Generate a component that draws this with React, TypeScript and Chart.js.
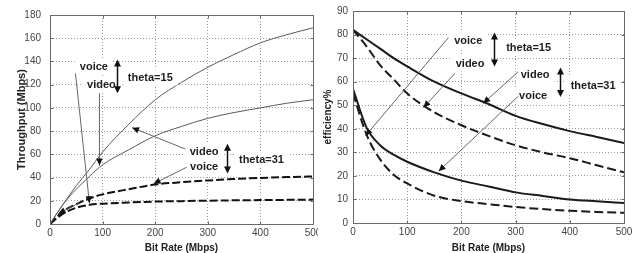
import React, { useEffect, useRef } from "react";
import { Chart, registerables } from "chart.js";

Chart.register(...registerables);

// ---------- data ----------
const bitRate = [0, 25, 50, 75, 100, 150, 200, 250, 300, 350, 400, 450, 500];

// Throughput (Mbps)
const thrSolidUpper = [0, 17, 33, 47, 62, 86, 107, 122, 135, 146, 156, 163, 169];
const thrSolidLower = [0, 17, 30, 41, 51, 64, 76, 84, 91, 96, 100, 104, 107];
const thrDashedUpper = [0, 11, 17, 22, 25.5, 30, 34, 36, 37.5, 38.8, 39.7, 40.4, 41];
const thrDashedLower = [0, 9, 14, 16.5, 17.5, 18.5, 19.3, 19.7, 20.1, 20.4, 20.6, 20.8, 21];

// efficiency %
const effSolidUpper = [82, 78, 74, 70, 66.5, 60, 55, 50.5, 45.5, 42, 39, 36.5, 34];
const effDashedUpper = [82, 75, 67, 61, 55, 47, 41.5, 37, 33, 30, 27.5, 24.5, 21.5];
const effSolidLower = [57, 40.5, 33, 29, 26, 21.5, 18, 15.5, 13, 11.5, 10, 9.2, 8.5];
const effDashedLower = [55, 37.5, 27, 20.5, 16.8, 11.6, 9.3, 8, 6.8, 5.9, 5.2, 4.7, 4.3];

// tick labels
const xTicks = [0, 100, 200, 300, 400, 500];
const thrTicks = [0, 20, 40, 60, 80, 100, 120, 140, 160, 180];
const effTicks = [0, 10, 20, 30, 40, 50, 60, 70, 80, 90];

// annotations (data coordinates)
type Label = { x: number; y: number; text: string };
type Arrow = { x1: number; y1: number; x2: number; y2: number };
type DArrow = { x: number; y1: number; y2: number };

const thrLabels: Label[] = [
  { x: 83.5, y: 135.6, text: "voice" },
  { x: 97.7, y: 120.3, text: "video" },
  { x: 190.7, y: 126.3, text: "theta=15" },
  { x: 293, y: 62.3, text: "video" },
  { x: 293, y: 49.5, text: "voice" },
  { x: 402, y: 55.5, text: "theta=31" },
];
const thrArrows: Arrow[] = [
  { x1: 48.4, y1: 129.7, x2: 75, y2: 17.9 },
  { x1: 94, y1: 112.6, x2: 94, y2: 50.3 },
  { x1: 257, y1: 64.6, x2: 156, y2: 83 },
  { x1: 260, y1: 48.9, x2: 197, y2: 34.7 },
  { x1: 55, y1: 18, x2: 16, y2: 9 },
];
const thrDArrows: DArrow[] = [
  { x: 128, y1: 141.6, y2: 112.6 },
  { x: 337, y1: 69.1, y2: 43.5 },
];

const effLabels: Label[] = [
  { x: 212.7, y: 77.6, text: "voice" },
  { x: 216, y: 67.8, text: "video" },
  { x: 324, y: 74.5, text: "theta=15" },
  { x: 336, y: 63, text: "video" },
  { x: 332.4, y: 54.3, text: "voice" },
  { x: 443, y: 58.5, text: "theta=31" },
];
const effArrows: Arrow[] = [
  { x1: 176, y1: 78.7, x2: 23, y2: 37 },
  { x1: 188, y1: 63.5, x2: 130, y2: 49 },
  { x1: 304.8, y1: 64.2, x2: 240.3, y2: 50.8 },
  { x1: 304.8, y1: 53.8, x2: 158, y2: 22 },
];
const effDArrows: DArrow[] = [
  { x: 260, y1: 80.9, y2: 66.4 },
  { x: 382, y1: 66, y2: 53.5 },
];

// ---------- helpers ----------
const TICK_FONT = "'Liberation Sans Narrow', 'Arial Narrow', 'Liberation Sans', Arial, sans-serif";
const BOLD_FONT = "'Liberation Sans', Arial, sans-serif";

function head(ctx: CanvasRenderingContext2D, x1: number, y1: number, x2: number, y2: number, len = 7, hw = 3) {
  const ang = Math.atan2(y2 - y1, x2 - x1);
  ctx.beginPath();
  ctx.moveTo(x2, y2);
  ctx.lineTo(x2 - len * Math.cos(ang) + hw * Math.sin(ang), y2 - len * Math.sin(ang) - hw * Math.cos(ang));
  ctx.lineTo(x2 - len * Math.cos(ang) - hw * Math.sin(ang), y2 - len * Math.sin(ang) + hw * Math.cos(ang));
  ctx.closePath();
  ctx.fill();
}

function makePlugin(labels: Label[], arrows: Arrow[], dArrows: DArrow[], xT: number[], yT: number[]) {
  return {
    id: "annot",
    afterDatasetsDraw(chart: any) {
      const { ctx, chartArea } = chart;
      const sx = chart.scales.x;
      const sy = chart.scales.y;
      ctx.save();
      // frame
      const L = Math.round(chartArea.left) + 0.5;
      const T = Math.round(chartArea.top) + 0.5;
      const R = Math.round(chartArea.right) + 0.5;
      const B = Math.round(chartArea.bottom) + 0.5;
      ctx.strokeStyle = "#6a6a6a";
      ctx.lineWidth = 1;
      ctx.setLineDash([]);
      ctx.strokeRect(L, T, R - L, B - T);
      // inward tick marks
      ctx.beginPath();
      xT.forEach((v) => {
        const px = Math.round(sx.getPixelForValue(v)) + 0.5;
        ctx.moveTo(px, B); ctx.lineTo(px, B - 3);
        ctx.moveTo(px, T); ctx.lineTo(px, T + 3);
      });
      yT.forEach((v) => {
        const py = Math.round(sy.getPixelForValue(v)) + 0.5;
        ctx.moveTo(L, py); ctx.lineTo(L + 3, py);
        ctx.moveTo(R, py); ctx.lineTo(R - 3, py);
      });
      ctx.stroke();

      // label boxes + text
      ctx.font = `bold 11px ${BOLD_FONT}`;
      ctx.textAlign = "center";
      ctx.textBaseline = "middle";
      labels.forEach((l) => {
        const px = sx.getPixelForValue(l.x);
        const py = sy.getPixelForValue(l.y);
        const w = ctx.measureText(l.text).width;
        ctx.fillStyle = "#ffffff";
        ctx.fillRect(px - w / 2 - 5, py - 8, w + 10, 16);
      });
      labels.forEach((l) => {
        const px = sx.getPixelForValue(l.x);
        const py = sy.getPixelForValue(l.y);
        ctx.fillStyle = "#1e1e1e";
        ctx.fillText(l.text, px, py + 0.5);
      });

      // arrows
      arrows.forEach((a) => {
        const x1 = sx.getPixelForValue(a.x1), y1 = sy.getPixelForValue(a.y1);
        const x2 = sx.getPixelForValue(a.x2), y2 = sy.getPixelForValue(a.y2);
        ctx.strokeStyle = "#666";
        ctx.lineWidth = 1;
        ctx.beginPath();
        ctx.moveTo(x1, y1);
        ctx.lineTo(x2, y2);
        ctx.stroke();
        ctx.fillStyle = "#111";
        head(ctx, x1, y1, x2, y2, 7, 3.2);
      });

      // double arrows
      dArrows.forEach((d) => {
        const px = Math.round(sx.getPixelForValue(d.x)) + 0.5;
        const y1 = sy.getPixelForValue(d.y1), y2 = sy.getPixelForValue(d.y2);
        ctx.strokeStyle = "#111";
        ctx.lineWidth = 1.5;
        ctx.beginPath();
        ctx.moveTo(px, y1 + 3);
        ctx.lineTo(px, y2 - 3);
        ctx.stroke();
        ctx.fillStyle = "#111";
        head(ctx, px, (y1 + y2) / 2, px, y1, 7, 3.5);
        head(ctx, px, (y1 + y2) / 2, px, y2, 7, 3.5);
      });
      ctx.restore();
    },
  };
}

type Series = { data: number[]; dashed: boolean; width: number; color: string };

type PanelProps = {
  width: number;
  left: number;
  yMax: number;
  yTicks: number[];
  yTitle: string;
  yTitleSize: number;
  yTitleOffset: number;
  yAxisWidth: number;
  yTickPad: number;
  padTop: number;
  padRight: number;
  xAxisHeight: number;
  series: Series[];
  labels: Label[];
  arrows: Arrow[];
  dArrows: DArrow[];
  dash: number[];
};

function Panel(p: PanelProps) {
  const ref = useRef<HTMLCanvasElement | null>(null);
  useEffect(() => {
    const canvas = ref.current;
    if (!canvas) return;
    const chart = new Chart(canvas, {
      type: "line",
      data: {
        datasets: p.series.map((s) => ({
          data: bitRate.map((x, i) => ({ x, y: s.data[i] })),
          borderColor: s.color,
          borderWidth: s.width,
          borderDash: s.dashed ? p.dash : [],
          pointRadius: 0,
          fill: false,
          cubicInterpolationMode: "monotone" as const,
        })),
      },
      options: {
        animation: false,
        responsive: false,
        devicePixelRatio: 1,
        layout: { padding: { top: p.padTop, right: p.padRight, left: 0, bottom: 0 } },
        plugins: { legend: { display: false }, tooltip: { enabled: false } },
        scales: {
          x: {
            type: "linear",
            min: 0,
            max: 500,
            afterBuildTicks: (s: any) => {
              s.ticks = xTicks.map((v) => ({ value: v }));
            },
            afterFit: (s: any) => {
              s.height = p.xAxisHeight;
            },
            ticks: {
              color: "#444",
              padding: 3,
              maxRotation: 0,
              font: { family: TICK_FONT, size: 10 },
            },
            grid: { color: "#9a9a9a", lineWidth: 1, drawTicks: false },
            border: { display: false, dash: [1, 2] },
            title: {
              display: true,
              text: "Bit Rate (Mbps)",
              color: "#222",
              font: { family: BOLD_FONT, size: 10, weight: "bold", lineHeight: 1 },
              padding: { top: 0, bottom: 0 },
            },
          },
          y: {
            type: "linear",
            min: 0,
            max: p.yMax,
            afterBuildTicks: (s: any) => {
              s.ticks = p.yTicks.map((v) => ({ value: v }));
            },
            afterFit: (s: any) => {
              s.width = p.yAxisWidth;
            },
            ticks: {
              color: "#444",
              padding: p.yTickPad,
              font: { family: TICK_FONT, size: 10 },
            },
            grid: { color: "#9a9a9a", lineWidth: 1, drawTicks: false },
            border: { display: false, dash: [1, 2] },
            title: {
              display: true,
              text: p.yTitle,
              color: "#222",
              font: { family: BOLD_FONT, size: p.yTitleSize, weight: "bold", lineHeight: 1 },
              padding: { top: p.yTitleOffset, bottom: 0 },
            },
          },
        },
      },
      plugins: [makePlugin(p.labels, p.arrows, p.dArrows, xTicks, p.yTicks)],
    } as any);
    return () => chart.destroy();
  }, []);
  return (
    <canvas
      ref={ref}
      width={p.width}
      height={253}
      style={{ position: "absolute", left: p.left, top: 0, width: p.width, height: 253, background: "#fff" }}
    />
  );
}

export default function App() {
  return (
    <div style={{ position: "fixed", left: 0, top: 0, width: 637, height: 253, background: "#fff", overflow: "hidden" }}>
      <Panel
        width={330}
        left={0}
        yMax={180}
        yTicks={thrTicks}
        yTitle="Throughput (Mbps)"
        yTitleSize={11}
        yTitleOffset={16}
        yAxisWidth={50}
        yTickPad={9}
        padTop={13}
        padRight={17}
        xAxisHeight={29}
        dash={[8, 3]}
        series={[
          { data: thrSolidUpper, dashed: false, width: 1, color: "#5a5a5a" },
          { data: thrSolidLower, dashed: false, width: 1, color: "#5a5a5a" },
          { data: thrDashedUpper, dashed: true, width: 2, color: "#111" },
          { data: thrDashedLower, dashed: true, width: 2, color: "#111" },
        ]}
        labels={thrLabels}
        arrows={thrArrows}
        dArrows={thrDArrows}
      />
      <Panel
        width={319}
        left={318}
        yMax={90}
        yTicks={effTicks}
        yTitle="efficiency%"
        yTitleSize={10}
        yTitleOffset={5}
        yAxisWidth={35}
        yTickPad={5}
        padTop={6}
        padRight={13}
        xAxisHeight={30}
        dash={[9, 4]}
        series={[
          { data: effSolidUpper, dashed: false, width: 2, color: "#1a1a1a" },
          { data: effDashedUpper, dashed: true, width: 2, color: "#1a1a1a" },
          { data: effSolidLower, dashed: false, width: 2, color: "#1a1a1a" },
          { data: effDashedLower, dashed: true, width: 2, color: "#1a1a1a" },
        ]}
        labels={effLabels}
        arrows={effArrows}
        dArrows={effDArrows}
      />
    </div>
  );
}
